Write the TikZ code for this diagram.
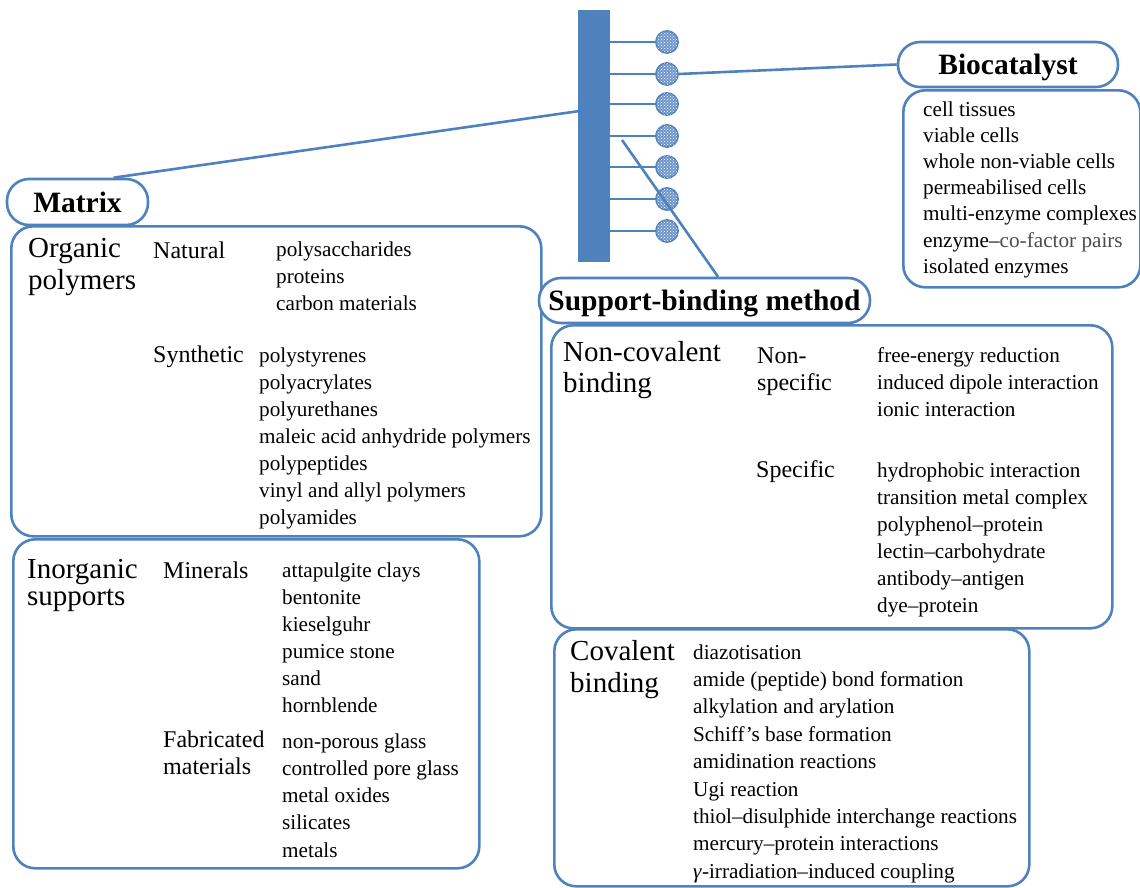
\documentclass[tikz,border=0pt]{standalone}
\usepackage{fontspec}
\setmainfont{Liberation Serif}
\usetikzlibrary{patterns}
\definecolor{frame}{RGB}{79,129,189}
\definecolor{beadfill}{RGB}{112,150,204}

% one column of list entries, one node per line
\newcommand\listcol[5]{%
  \foreach \t [count=\i] in {#5}{\node[item] (#1\i) at (#2,{#3+(\i-1)*#4}) {\t};}}

\begin{document}
\begin{tikzpicture}[x=1pt, y=-1pt,
  box/.style={draw=frame, line width=2.6pt, rounded corners=22pt, inner sep=0pt, anchor=north west},
  pill/.style={draw=frame, line width=2.6pt, rounded corners=22pt, fill=white, inner sep=0pt,
               text height=26pt, text depth=6pt, font=\bfseries\fontsize{29.5}{32}\selectfont},
  link/.style={draw=frame, line width=2.6pt},
  bead/.style={circle, minimum size=22pt, inner sep=0pt, draw=frame, line width=1.8pt,
               fill=beadfill, postaction={pattern=crosshatch dots, pattern color=white}},
  item/.style={inner sep=0pt, anchor=base west, font=\fontsize{21.2}{26}\selectfont},
  sub/.style={inner sep=0pt, anchor=base west, font=\fontsize{24}{27}\selectfont},
  cat/.style={inner sep=0pt, anchor=base west, font=\fontsize{29}{32}\selectfont}]
\useasboundingbox (0,0) rectangle (1140,887);

% support bar with enzyme beads
\node[fill=frame, minimum width=32pt, minimum height=252pt, inner sep=0pt, anchor=north west] (bar) at (578,10) {};
\foreach \yy [count=\i] in {42,74,104,136,167,199,231}{
  \node[bead] (c\i) at (667,\yy) {};
  \draw[link] (c\i -| bar.east) -- (c\i.west);
}
\coordinate (sb) at (622,140);

% boxes
\node[box, minimum width=530pt, minimum height=310pt] (orgbox) at (10,225) {};
\node[box, minimum width=466pt, minimum height=329pt] (inorgbox) at (12,538) {};
\node[box, minimum width=237pt, minimum height=197pt] (biobox) at (902,89) {};
\node[box, minimum width=561pt, minimum height=303pt] (ncbox) at (550,324) {};
\node[box, minimum width=475pt, minimum height=257pt] (covbox) at (553,628) {};

% headers
\node[pill, minimum width=141pt, minimum height=46pt] (mhead) at (77.5,202) {Matrix};
\node[pill, minimum width=220pt, minimum height=45pt] (bhead) at (1008,64.5) {Biocatalyst};
\node[pill, minimum width=331pt, minimum height=45pt] (shead) at (704.5,300.5) {Support-binding method};

% connectors
\draw[link] ([xshift=36pt]mhead.north) -- ([yshift=25pt]bar.west);
\draw[link] (c2.east) -- (bhead.west);
\draw[link] (sb) -- ([xshift=13.5pt]shead.north);

% biocatalyst list
\listcol{bio}{923}{116}{26.2}{cell tissues, viable cells, whole non-viable cells, permeabilised cells,
  multi-enzyme complexes, {enzyme--{\color{black!70}co-factor pairs}}, isolated enzymes}

% organic polymers
\node[cat] (org1) at (28,257) {Organic};
\node[cat] (org2) at (28,289) {polymers};
\node[sub] (nat) at (153,258) {Natural};
\node[sub] (syn) at (153,362) {Synthetic};
\listcol{natl}{276}{256}{27}{polysaccharides, proteins, carbon materials}
\listcol{synl}{259}{362}{27}{polystyrenes, polyacrylates, polyurethanes, maleic acid anhydride polymers,
  polypeptides, vinyl and allyl polymers, polyamides}

% inorganic supports
\node[cat] (inorg1) at (27,578) {Inorganic};
\node[cat] (inorg2) at (27,605) {supports};
\node[sub] (min) at (163,578) {Minerals};
\node[sub] (fab1) at (163,747) {Fabricated};
\node[sub] (fab2) at (163,774) {materials};
\listcol{minl}{282}{577}{27}{attapulgite clays, bentonite, kieselguhr, pumice stone, sand, hornblende}
\listcol{fabl}{282}{748}{27.25}{non-porous glass, controlled pore glass, metal oxides, silicates, metals}

% non-covalent binding
\node[cat] (nc1) at (563,361) {Non-covalent};
\node[cat] (nc2) at (563,392) {binding};
\node[sub] (ns1) at (757,363) {Non-};
\node[sub] (ns2) at (757,390) {specific};
\node[sub] (sp) at (756,477) {Specific};
\listcol{nsl}{877}{362}{27}{free-energy reduction, induced dipole interaction, ionic interaction}
\listcol{spl}{877}{477}{27}{hydrophobic interaction, transition metal complex, polyphenol--protein,
  lectin--carbohydrate, antibody--antigen, dye--protein}

% covalent binding
\node[cat] (cv1) at (570,660) {Covalent};
\node[cat] (cv2) at (570,692) {binding};
\listcol{cvl}{693}{659}{27.4}{diazotisation, {amide (peptide) bond formation}, alkylation and arylation,
  Schiff’s base formation, amidination reactions, Ugi reaction,
  thiol--disulphide interchange reactions, mercury--protein interactions,
  {\textit{γ}-irradiation--induced coupling}}
\end{tikzpicture}
\end{document}
